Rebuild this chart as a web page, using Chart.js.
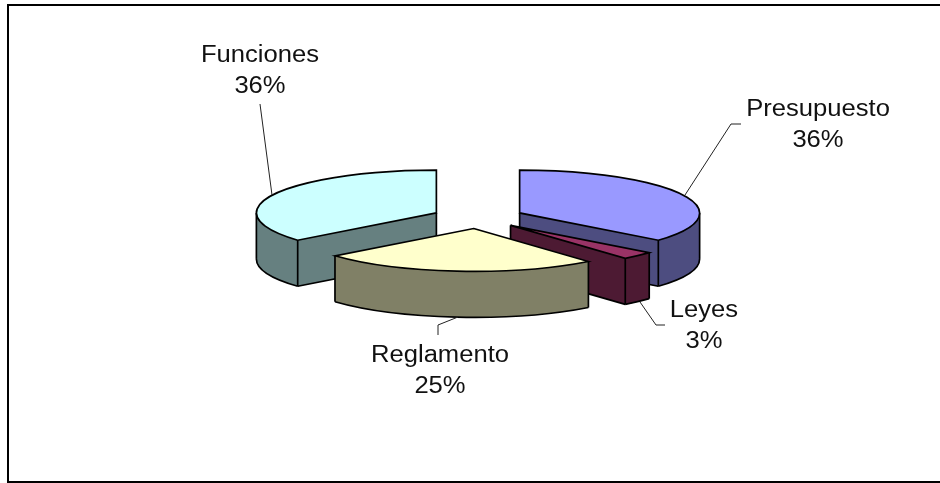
<!DOCTYPE html>
<html><head><meta charset="utf-8">
<style>html,body{margin:0;padding:0;background:#fff}canvas{display:block}</style>
<script src="https://cdn.jsdelivr.net/npm/chart.js@4"></script>
</head><body>
<canvas id="c" width="940" height="483"></canvas>
<script>
const categories = ['Presupuesto', 'Leyes', 'Reglamento', 'Funciones'];
const values = [36, 3, 25, 36];
const topColors = ['#9999ff', '#993366', '#ffffcc', '#ccffff'];
const sideColors = ['#4d4d80', '#4d1a33', '#808066', '#668080'];
const drawOrder = [3, 0, 1, 2];
const labelBoxes = [
  {x: 818, y: 110, lead: [[741, 124], [731, 124], [685, 195]]},
  {x: 704, y: 311, lead: [[665, 325], [656, 325], [640, 302]]},
  {x: 440, y: 356, lead: [[438, 335], [438, 325], [458, 317]]},
  {x: 260, y: 56, lead: [[260, 104], [272, 195]]}
];
const TILT = 0.238, DEPTH = 46, VIEW_CY = 217.6, EXPLODE = 46, HALF_PI = Math.PI / 2;

function squashed(ctx, arc, dx, dy, color) {
  const saved = arc.options;
  arc.options = Object.assign({}, saved, {backgroundColor: color, borderWidth: 0});
  ctx.save();
  ctx.translate(dx, VIEW_CY + dy);
  ctx.scale(1, TILT);
  ctx.translate(0, -arc.y);
  arc.draw(ctx);
  ctx.restore();
  arc.options = saved;
}

const pie3d = {
  id: 'pie3d',
  beforeDatasetsDraw(chart) {
    const ctx = chart.ctx, arcs = chart.getDatasetMeta(0).data;
    drawOrder.forEach(i => {
      const arc = arcs[i];
      const s = arc.startAngle, e = arc.endAngle, r = arc.outerRadius;
      const mid = (s + e) / 2;
      const ox = EXPLODE * Math.cos(mid), oy = EXPLODE * Math.sin(mid) * TILT;
      const cx = arc.x + ox, cy = VIEW_CY + oy;
      const px = a => cx + r * Math.cos(a), py = (a, d) => cy + r * TILT * Math.sin(a) + d;
      for (let d = DEPTH; d > 0; d--) squashed(ctx, arc, ox, oy + d, sideColors[i]);
      ctx.save();
      const a0 = Math.max(s, 0), a1 = Math.min(e, Math.PI);
      const startSeen = Math.sin(s + HALF_PI) < -1e-6, endSeen = Math.sin(e + HALF_PI) > 1e-6;
      const faces = [[startSeen, s], [endSeen, e]];
      ctx.fillStyle = sideColors[i];
      if (a1 > a0) {
        ctx.beginPath();
        ctx.ellipse(cx, cy, r, r * TILT, 0, a0, a1);
        ctx.ellipse(cx, cy + DEPTH, r, r * TILT, 0, a1, a0, true);
        ctx.closePath(); ctx.fill();
      }
      faces.forEach(([seen, a]) => {
        if (!seen) return;
        ctx.beginPath();
        ctx.moveTo(cx, cy); ctx.lineTo(px(a), py(a, 0)); ctx.lineTo(px(a), py(a, DEPTH)); ctx.lineTo(cx, cy + DEPTH);
        ctx.closePath(); ctx.fill();
      });
      ctx.strokeStyle = '#000'; ctx.lineWidth = 1.7; ctx.lineJoin = 'round';
      if (a1 > a0) { ctx.beginPath(); ctx.ellipse(cx, cy + DEPTH, r, r * TILT, 0, a0, a1); ctx.stroke(); }
      const edge = a => { ctx.beginPath(); ctx.moveTo(px(a), py(a, 0)); ctx.lineTo(px(a), py(a, DEPTH)); ctx.stroke(); };
      [s, e, 0, Math.PI].forEach(a => { if (a >= a0 - 1e-6 && a <= a1 + 1e-6) edge(a); });
      faces.forEach(([seen, a]) => {
        if (!seen) return;
        ctx.beginPath(); ctx.moveTo(cx, cy + DEPTH); ctx.lineTo(px(a), py(a, DEPTH)); ctx.stroke();
        ctx.beginPath(); ctx.moveTo(cx, cy); ctx.lineTo(cx, cy + DEPTH); ctx.stroke();
      });
      ctx.restore();
      squashed(ctx, arc, ox, oy, topColors[i]);
      ctx.save();
      ctx.strokeStyle = '#000'; ctx.lineWidth = 1.7; ctx.lineJoin = 'miter';
      ctx.beginPath(); ctx.moveTo(cx, cy); ctx.ellipse(cx, cy, r, r * TILT, 0, s, e); ctx.closePath(); ctx.stroke();
      ctx.restore();
    });
    return false;
  },
  afterDraw(chart) {
    const ctx = chart.ctx;
    ctx.save();
    ctx.strokeStyle = '#000'; ctx.lineWidth = 2;
    ctx.beginPath(); ctx.moveTo(940, 5); ctx.lineTo(8, 5); ctx.lineTo(8, 482); ctx.lineTo(940, 482); ctx.stroke();
    ctx.fillStyle = '#111'; ctx.textAlign = 'center'; ctx.textBaseline = 'middle';
    ctx.font = '23px "Liberation Sans", Arial, sans-serif';
    categories.forEach((name, i) => {
      const b = labelBoxes[i];
      ctx.save(); ctx.strokeStyle = '#222'; ctx.lineWidth = 1;
      ctx.beginPath(); b.lead.forEach((p, k) => k ? ctx.lineTo(p[0], p[1]) : ctx.moveTo(p[0], p[1])); ctx.stroke();
      ctx.restore();
      [name, values[i] + '%'].forEach((t, k) => {
        ctx.save(); ctx.translate(b.x, b.y + k * 30.5); ctx.scale(1.113, 1); ctx.fillText(t, 0, 0); ctx.restore();
      });
    });
    ctx.restore();
  }
};

new Chart(document.getElementById('c'), {
  type: 'pie',
  data: {labels: categories, datasets: [{data: values, backgroundColor: topColors, borderWidth: 0}]},
  options: {
    responsive: false, animation: false, events: [],
    layout: {padding: {left: 298, right: 282, top: 43, bottom: 80}},
    plugins: {legend: {display: false}, tooltip: {enabled: false}}
  },
  plugins: [pie3d]
});
</script>
</body></html>
